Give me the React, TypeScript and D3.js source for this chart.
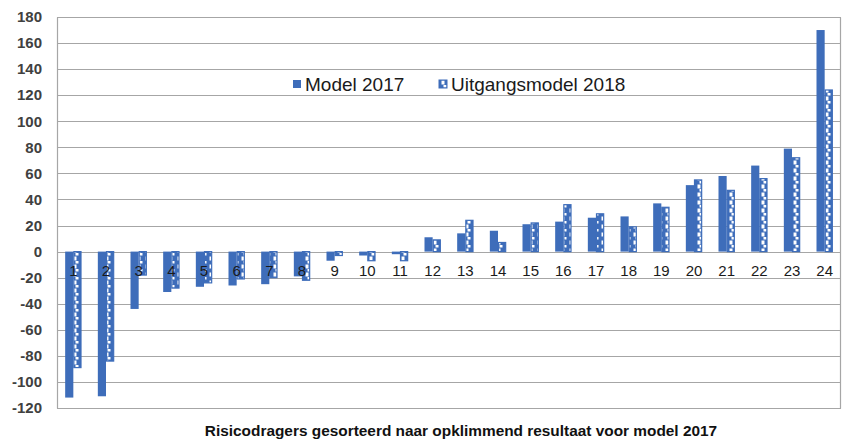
import { useEffect, useRef } from "react";
import * as d3 from "d3";

// categories 1..24 (risicodragers sorted by model 2017 result)
const categories = [
  "1", "2", "3", "4", "5", "6", "7", "8", "9", "10", "11", "12",
  "13", "14", "15", "16", "17", "18", "19", "20", "21", "22", "23", "24",
];
const model2017 = [
  -112, -111, -44, -31, -27, -26, -25, -19, -7, -3, -2, 11,
  14, 16, 21, 23, 26, 27, 37, 51, 58, 66, 79, 170,
];
const uitgangsmodel2018 = [
  -89, -84, -18, -28, -24, -21, -20, -22, -3, -7, -7, 9,
  24, 7, 22, 36, 29, 19, 34, 55, 47, 56, 72, 124,
];
const yTicks = [180, 160, 140, 120, 100, 80, 60, 40, 20, 0, -20, -40, -60, -80, -100, -120];
const seriesNames = ["Model 2017", "Uitgangsmodel 2018"];
const xTitle = "Risicodragers gesorteerd naar opklimmend resultaat voor model 2017";

const BLUE = "#3e6dba";

export default function App() {
  const ref = useRef<SVGSVGElement>(null);

  useEffect(() => {
    const width = 846;
    const height = 439;
    const svg = d3.select(ref.current);
    svg.selectAll("*").remove();
    svg.attr("viewBox", `0 0 ${width} ${height}`);

    const left = 57, right = 841, top = 17, bottom = 408;

    const x = d3.scaleBand<string>()
      .domain(categories)
      .range([left, right])
      .paddingInner(0.5)
      .paddingOuter(0.25);
    const xs = d3.scaleBand<string>().domain(["a", "b"]).range([0, x.bandwidth()]);
    const y = d3.scaleLinear().domain([-120, 180]).range([bottom, top]);

    svg.append("rect").attr("width", width).attr("height", height).attr("fill", "#fff");

    // pattern for 2018 bars
    const defs = svg.append("defs");
    const pat = defs.append("pattern")
      .attr("id", "ladder")
      .attr("patternUnits", "userSpaceOnUse")
      .attr("width", 8)
      .attr("height", 8);
    pat.append("rect").attr("width", 8).attr("height", 8).attr("fill", BLUE);
    pat.append("rect").attr("x", 1.5).attr("y", 0.5).attr("width", 3).attr("height", 4).attr("fill", "#fff");
    pat.append("rect").attr("x", 3.5).attr("y", 5).attr("width", 3).attr("height", 2.5).attr("fill", "#fff");

    // gridlines
    svg.append("g")
      .selectAll("line")
      .data(yTicks)
      .join("line")
      .attr("x1", left)
      .attr("x2", right)
      .attr("y1", (d) => Math.round(y(d)) + 0.5)
      .attr("y2", (d) => Math.round(y(d)) + 0.5)
      .attr("stroke", "#a6a6a6")
      .attr("stroke-width", 1.2);

    // plot border (left / right)
    svg.append("line").attr("x1", left + 0.5).attr("x2", left + 0.5)
      .attr("y1", Math.round(y(180)) + 0.5).attr("y2", Math.round(y(-120)) + 0.5)
      .attr("stroke", "#a6a6a6").attr("stroke-width", 1.2);
    svg.append("line").attr("x1", right - 0.5).attr("x2", right - 0.5)
      .attr("y1", Math.round(y(180)) + 0.5).attr("y2", Math.round(y(-120)) + 0.5)
      .attr("stroke", "#a6a6a6").attr("stroke-width", 1.2);

    // y tick labels
    svg.append("g")
      .selectAll("text")
      .data(yTicks)
      .join("text")
      .attr("x", 42)
      .attr("y", (d) => y(d))
      .attr("dy", "0.35em")
      .attr("text-anchor", "end")
      .attr("font-family", "Liberation Sans, Arial, sans-serif")
      .attr("font-weight", "bold")
      .attr("font-size", 15)
      .attr("fill", "#404040")
      .text((d) => d);

    // bars
    const g = svg.append("g");
    g.selectAll("rect.m17")
      .data(categories)
      .join("rect")
      .attr("class", "m17")
      .attr("x", (d) => (x(d) as number) + (xs("a") as number))
      .attr("width", xs.bandwidth())
      .attr("y", (_, i) => y(Math.max(0, model2017[i])))
      .attr("height", (_, i) => Math.abs(y(model2017[i]) - y(0)))
      .attr("fill", BLUE);

    g.selectAll("rect.m18")
      .data(categories)
      .join("rect")
      .attr("class", "m18")
      .attr("x", (d) => (x(d) as number) + (xs("b") as number) + 0.5)
      .attr("width", xs.bandwidth() - 1)
      .attr("y", (_, i) => y(Math.max(0, uitgangsmodel2018[i])))
      .attr("height", (_, i) => Math.abs(y(uitgangsmodel2018[i]) - y(0)))
      .attr("fill", "url(#ladder)")
      .attr("stroke", BLUE)
      .attr("stroke-width", 1.2);

    // category labels under zero line (drawn over the bars)
    svg.append("g")
      .selectAll("text")
      .data(categories)
      .join("text")
      .attr("x", (d) => (x(d) as number) + x.bandwidth() / 2)
      .attr("y", y(0) + 24)
      .attr("text-anchor", "middle")
      .attr("font-family", "Liberation Sans, Arial, sans-serif")
      .attr("font-size", 15)
      .attr("fill", "#1a1a1a")
      .text((d) => d);

    // legend
    const leg = svg.append("g").attr("font-family", "Liberation Sans, Arial, sans-serif").attr("font-size", 19);
    const legX = [293, 439];
    seriesNames.forEach((name, i) => {
      leg.append("rect")
        .attr("x", legX[i])
        .attr("y", 80)
        .attr("width", 8)
        .attr("height", 8)
        .attr("fill", i === 0 ? BLUE : "url(#ladder)")
        .attr("stroke", i === 0 ? "none" : BLUE);
      leg.append("text")
        .attr("x", legX[i] + 12)
        .attr("y", 84)
        .attr("dy", "0.35em")
        .attr("fill", "#1a1a1a")
        .text(name);
    });

    // x axis title
    svg.append("text")
      .attr("x", 461)
      .attr("y", 436)
      .attr("text-anchor", "middle")
      .attr("font-family", "Liberation Sans, Arial, sans-serif")
      .attr("font-weight", "bold")
      .attr("font-size", 15.4)
      .attr("fill", "#111")
      .text(xTitle);
  }, []);

  return (
    <svg
      ref={ref}
      width={846}
      height={439}
      style={{ position: "absolute", left: 0, top: 0, display: "block" }}
    />
  );
}
